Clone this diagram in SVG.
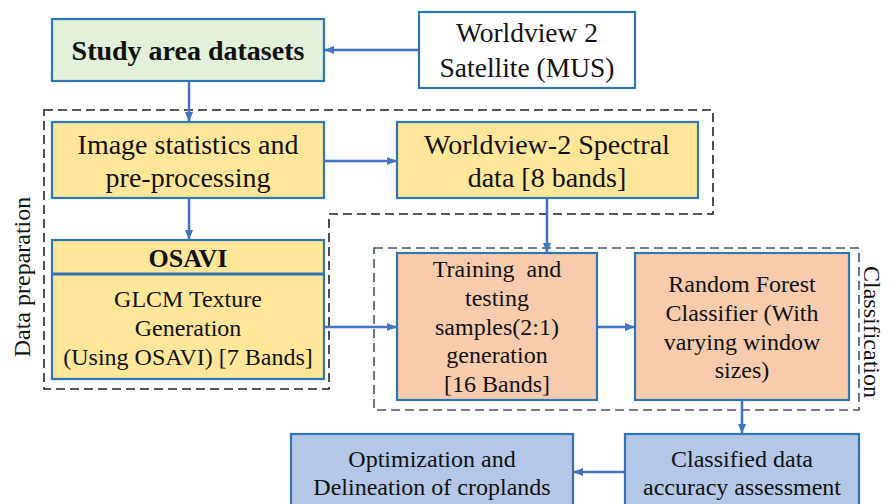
<svg xmlns="http://www.w3.org/2000/svg" width="890" height="504" viewBox="0 0 890 504">
<defs>
<marker id="ah" markerWidth="10" markerHeight="8" refX="9" refY="4" orient="auto" markerUnits="userSpaceOnUse">
<path d="M0,0 L10,4 L0,8 z" fill="#4472c4"/>
</marker>
<style>
.box{stroke:#2e75b6;stroke-width:2.2}
.t{font-family:'Liberation Serif','DejaVu Serif',serif;fill:#111;text-anchor:middle}
.b{font-weight:bold}
.c{stroke:#4472c4;stroke-width:2.5;fill:none;marker-end:url(#ah)}
.dash1{fill:none;stroke:#222;stroke-width:1.6;stroke-dasharray:9,5}
.dash2{fill:none;stroke:#44546a;stroke-width:1.6;stroke-dasharray:9,5}
</style>
</defs>
<rect width="890" height="504" fill="#fff"/>

<g id="groups">
<path class="dash1" d="M44,110 H713 V214 H329 V389 H44 Z"/>
<rect class="dash2" x="374" y="248" width="485" height="162"/>
<text class="t" font-size="24" transform="translate(30,277) rotate(-90)">Data preparation</text>
<text class="t" font-size="24" transform="translate(864,332) rotate(90)">Classification</text>
</g>

<g id="study">
<rect class="box" x="52" y="19" width="272" height="62" fill="#e2f0d9"/>
<text class="t b" font-size="28" x="188" y="60">Study area datasets</text>
</g>

<g id="worldview">
<rect class="box" x="419" y="12" width="216" height="76" fill="#fff"/>
<text class="t" font-size="27.5" x="527" y="42">Worldview 2</text>
<text class="t" font-size="27.5" x="527" y="77">Satellite (MUS)</text>
</g>

<g id="imagestats">
<rect class="box" x="52" y="122" width="272" height="76" fill="#ffe699"/>
<text class="t" font-size="28" x="188" y="154">Image statistics and</text>
<text class="t" font-size="28" x="188" y="187">pre-processing</text>
</g>

<g id="spectral">
<rect class="box" x="397" y="122" width="301" height="76" fill="#ffe699"/>
<text class="t" font-size="28" x="547" y="154">Worldview-2 Spectral</text>
<text class="t" font-size="28" x="547" y="187">data [8 bands]</text>
</g>

<g id="osavi">
<rect class="box" x="52" y="240" width="272" height="139" fill="#ffe699"/>
<line x1="52" y1="274" x2="324" y2="274" stroke="#2e75b6" stroke-width="3"/>
<text class="t b" font-size="26" x="188" y="267">OSAVI</text>
<text class="t" font-size="24" x="188" y="307">GLCM Texture</text>
<text class="t" font-size="24" x="188" y="336">Generation</text>
<text class="t" font-size="24" x="188" y="365">(Using OSAVI) [7 Bands]</text>
</g>

<g id="training">
<rect class="box" x="397" y="253" width="200" height="147" fill="#f8cbad"/>
<text class="t" font-size="24" x="497" y="277" xml:space="preserve">Training  and</text>
<text class="t" font-size="24" x="497" y="306">testing</text>
<text class="t" font-size="24" x="497" y="335">samples(2:1)</text>
<text class="t" font-size="24" x="497" y="363">generation</text>
<text class="t" font-size="24" x="497" y="392">[16 Bands]</text>
</g>

<g id="randomforest">
<rect class="box" x="635" y="253" width="214" height="147" fill="#f8cbad"/>
<text class="t" font-size="24" x="742" y="292">Random Forest</text>
<text class="t" font-size="24" x="742" y="321">Classifier (With</text>
<text class="t" font-size="24" x="742" y="350">varying window</text>
<text class="t" font-size="24" x="742" y="378">sizes)</text>
</g>

<g id="classified">
<rect class="box" x="625" y="434" width="234" height="80" fill="#b4c7e7"/>
<text class="t" font-size="24" x="742" y="467">Classified data</text>
<text class="t" font-size="24" x="742" y="495">accuracy assessment</text>
</g>

<g id="optimization">
<rect class="box" x="291" y="434" width="282" height="80" fill="#b4c7e7"/>
<text class="t" font-size="24" x="432" y="467">Optimization and</text>
<text class="t" font-size="24" x="432" y="495">Delineation of croplands</text>
</g>

<g id="connectors">
<line class="c" x1="419" y1="50" x2="325" y2="50"/>
<line class="c" x1="189" y1="81" x2="189" y2="121"/>
<line class="c" x1="324" y1="161" x2="396" y2="161"/>
<line class="c" x1="189" y1="198" x2="189" y2="239"/>
<line class="c" x1="547" y1="198" x2="547" y2="252"/>
<line class="c" x1="324" y1="327" x2="396" y2="327"/>
<line class="c" x1="597" y1="327" x2="634" y2="327"/>
<line class="c" x1="742" y1="400" x2="742" y2="433"/>
<line class="c" x1="625" y1="472" x2="574" y2="472"/>
</g>
</svg>
